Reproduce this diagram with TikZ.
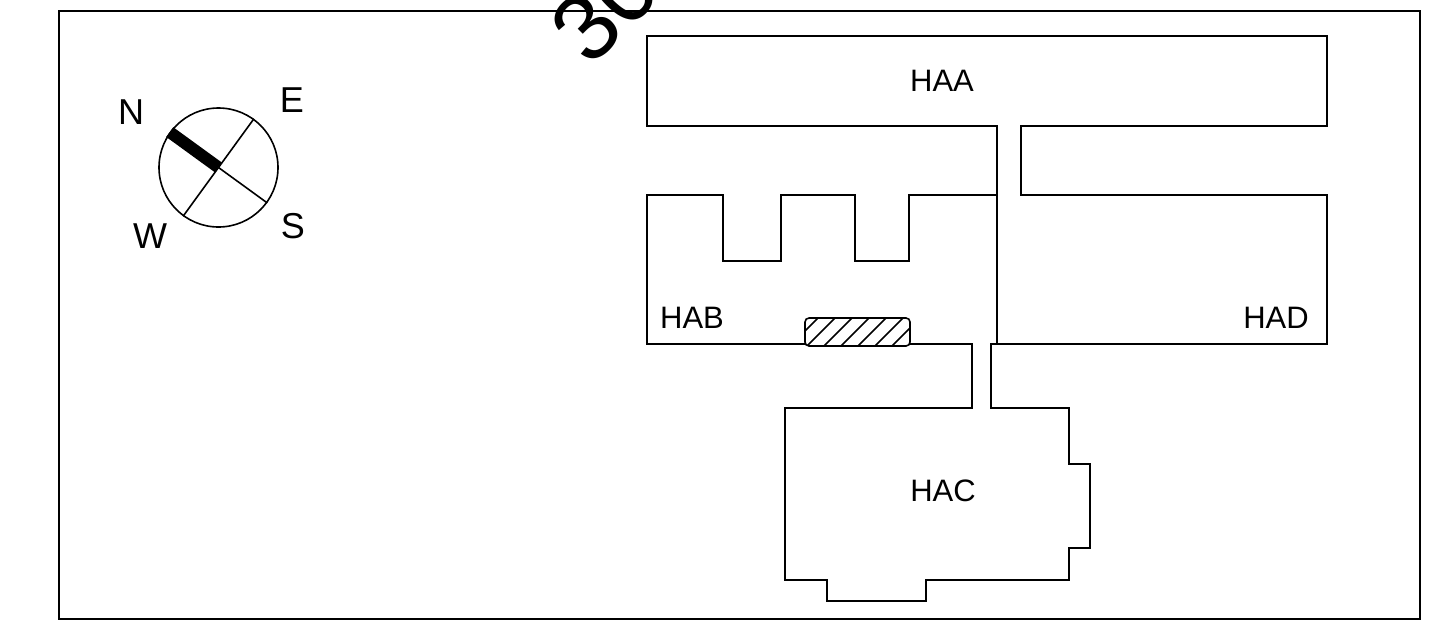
\documentclass[tikz,border=0pt]{standalone}
\usepackage{fontspec}
\setmainfont{Liberation Sans}
\tikzset{wall/.style={draw,line width=1.6pt,line join=miter}}
\tikzset{roomlabel/.style={font=\fontsize{31}{31}\selectfont}}
\tikzset{compasslabel/.style={font=\fontsize{36}{36}\selectfont}}
\tikzset{needle/.style={line width=1.6pt}}
\begin{document}
\begin{tikzpicture}[x=1pt,y=-1pt]
    \clip (0,0) rectangle (1432,630);
    \useasboundingbox (0,0) rectangle (1432,630);
    % Outer frame
    \draw[wall] (59,11) rectangle (1420,619);
    % Clipped mark at the top edge
    \node[rotate=45,font=\fontsize{94}{94}\selectfont] (mark) at (605,9) {30};
    % Building outline
    \draw[wall] (647,36) -- (1327,36) -- (1327,126) -- (1021,126) -- (1021,195)
        -- (1327,195) -- (1327,344) -- (991,344) -- (991,408) -- (1069,408)
        -- (1069,464) -- (1090,464) -- (1090,548) -- (1069,548) -- (1069,580)
        -- (926,580) -- (926,601) -- (827,601) -- (827,580) -- (785,580)
        -- (785,408) -- (972,408) -- (972,344) -- (647,344) -- (647,195)
        -- (723,195) -- (723,261) -- (781,261) -- (781,195) -- (855,195)
        -- (855,261) -- (909,261) -- (909,195) -- (997,195) -- (997,126)
        -- (647,126) -- cycle;
    \draw[wall] (997,195) -- (997,344);
    % Hatched block
    \begin{scope}
        \clip[rounded corners=4pt] (805,318) rectangle (910,346);
        \fill[white] (805,318) rectangle (910,346);
        \foreach \hx in {818,835,...,937}{%
            \draw[needle] (\hx,318) -- ++(-28,28);
        }
    \end{scope}
    \draw[wall,rounded corners=4pt] (805,318) rectangle (910,346);
    % Room labels
    \node[roomlabel] (haa) at (942,81) {HAA};
    \node[roomlabel] (hab) at (692,318) {HAB};
    \node[roomlabel] (hac) at (943,491) {HAC};
    \node[roomlabel] (had) at (1276,318) {HAD};
    % Compass
    \node[draw,circle,line width=1.6pt,minimum size=119pt,inner sep=0pt] (dial) at (218.5,167.5) {};
    \draw[needle] (dial.center) -- (dial.-36);
    \draw[needle] (dial.center) -- (dial.54);
    \draw[needle] (dial.center) -- (dial.234);
    \draw[line width=12pt,line join=round] (dial.center) -- (dial.144);
    \node[compasslabel] (north) at (131,112) {N};
    \node[compasslabel] (east) at (292,100) {E};
    \node[compasslabel] (south) at (293,226) {S};
    \node[compasslabel] (west) at (150,236) {W};
\end{tikzpicture}
\end{document}
